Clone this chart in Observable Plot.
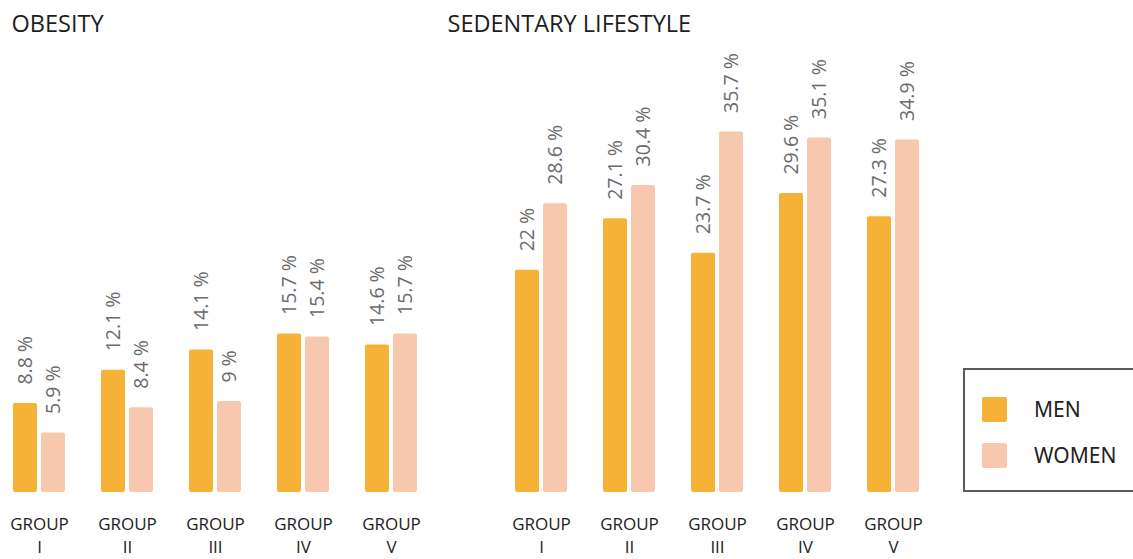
<!DOCTYPE html>
<html>
<head>
<meta charset="utf-8">
<script src="https://cdn.jsdelivr.net/npm/d3@7"></script>
<script src="https://cdn.jsdelivr.net/npm/@observablehq/plot@0.6"></script>
<style>
  html, body { margin: 0; padding: 0; background: #fff; }
  #wrap { position: relative; width: 1133px; height: 559px; overflow: hidden; font-family: "Open Sans", sans-serif; }
  #legend { position: absolute; left: 963px; top: 368px; width: 185px; height: 124px; box-sizing: border-box;
            border: 2px solid #5b5b5b; padding: 25px 0 0 17px; }
  .lg-swatch { margin-bottom: 17px !important; font-size: 21px; color: #222; }
  .lg-swatch svg { margin-right: 27px !important; }
  .lg-swatch svg rect { rx: 2px; }
</style>
</head>
<body>
<div id="wrap"></div>
<script>
const indicators = ["OBESITY", "SEDENTARY LIFESTYLE"];
const groups = ["I", "II", "III", "IV", "V"];
const groupWord = "GROUP";
const sexes = ["MEN", "WOMEN"];
const menObesity = [8.8, 12.1, 14.1, 15.7, 14.6];
const womenObesity = [5.9, 8.4, 9, 15.4, 15.7];
const menSedentary = [22, 27.1, 23.7, 29.6, 27.3];
const womenSedentary = [28.6, 30.4, 35.7, 35.1, 34.9];
const colors = ["#F5B236", "#F7C8AE"];

const series = [
  [indicators[0], sexes[0], menObesity],
  [indicators[0], sexes[1], womenObesity],
  [indicators[1], sexes[0], menSedentary],
  [indicators[1], sexes[1], womenSedentary]
];
const rows = series.flatMap(([indicator, sex, vals]) =>
  vals.map((value, i) => ({indicator, sex, group: groups[i], value})));
const men = rows.filter(d => d.sex === sexes[0]);
const women = rows.filter(d => d.sex === sexes[1]);
const axisRows = indicators.flatMap(indicator => groups.map(group => ({indicator, group})));

const labelStyle = {fontSize: 19.5, fill: "#6b6b6b", rotate: -90, textAnchor: "start", lineAnchor: "middle", dy: -19};

const chart = Plot.plot({
  width: 1133,
  height: 559,
  marginLeft: 13,
  marginRight: 213,
  marginTop: 88,
  marginBottom: 67,
  style: {fontFamily: "Open Sans, sans-serif", background: "white"},
  fx: {domain: indicators, paddingInner: 0.195, paddingOuter: 0, axis: null},
  x: {domain: groups, paddingInner: 0.41, paddingOuter: 0, axis: null},
  y: {domain: [0, 40], axis: null},
  color: {domain: sexes, range: colors},
  marks: [
    Plot.barY(men, {fx: "indicator", x: "group", y: "value", fill: "sex", insetRight: 28, rx: 2}),
    Plot.barY(women, {fx: "indicator", x: "group", y: "value", fill: "sex", insetLeft: 28, rx: 2}),
    Plot.text(men, {fx: "indicator", x: "group", y: "value", text: d => d.value + " %", dx: -14, ...labelStyle}),
    Plot.text(women, {fx: "indicator", x: "group", y: "value", text: d => d.value + " %", dx: 14, ...labelStyle}),
    Plot.text(axisRows, {fx: "indicator", x: "group", text: () => groupWord, frameAnchor: "bottom", lineAnchor: "middle", dy: 32, fontSize: 17, fill: "#222"}),
    Plot.text(axisRows, {fx: "indicator", x: "group", text: "group", frameAnchor: "bottom", lineAnchor: "middle", dy: 55, fontSize: 17, fill: "#222"}),
    Plot.text([indicators[0]], {fx: d => d, text: d => d, frameAnchor: "top-left", lineAnchor: "middle", textAnchor: "start", dx: -2, dy: -64, fontSize: 23.5, fill: "#1e1e1e"}),
    Plot.text([indicators[1]], {fx: d => d, text: d => d, frameAnchor: "top-left", lineAnchor: "middle", textAnchor: "start", dx: -68, dy: -64, fontSize: 23.5, fill: "#1e1e1e"})
  ]
});

const wrap = document.getElementById("wrap");
wrap.appendChild(chart);
const legendBox = document.createElement("div");
legendBox.id = "legend";
legendBox.appendChild(chart.legend("color", {columns: 1, swatchSize: 25, className: "lg"}));
wrap.appendChild(legendBox);
</script>
</body>
</html>
